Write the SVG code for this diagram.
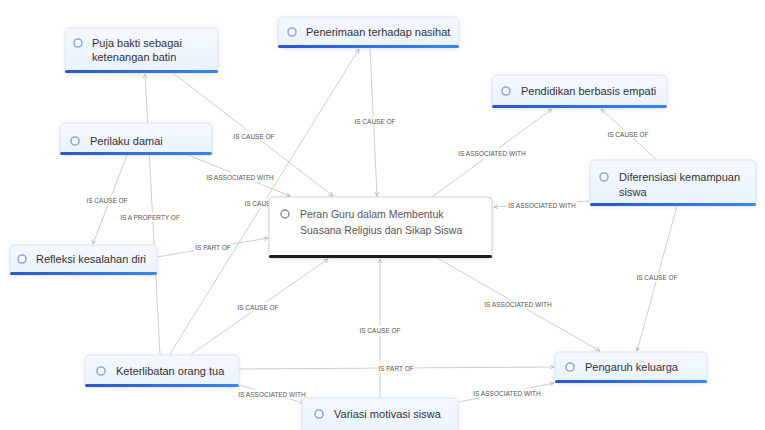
<svg xmlns="http://www.w3.org/2000/svg" width="765" height="430" viewBox="0 0 765 430">
<defs>
<linearGradient id="bar" x1="0" x2="1"><stop offset="0" stop-color="#2d56c9"/><stop offset="1" stop-color="#3a86f0"/></linearGradient>
<linearGradient id="nodeFill" x1="0" y1="0" x2="0" y2="1"><stop offset="0" stop-color="#f5f9ff"/><stop offset="1" stop-color="#eaf2fd"/></linearGradient>
<filter id="sh" x="-10%" y="-20%" width="120%" height="150%"><feDropShadow dx="0" dy="1" stdDeviation="2" flood-color="#7a8fc0" flood-opacity="0.18"/></filter>
<marker id="arr" viewBox="0 0 10 10" refX="9" refY="5" markerWidth="5" markerHeight="5" orient="auto"><path d="M1,1 L9,5 L1,9" fill="none" stroke="#b0b0b0" stroke-width="1.5"/></marker>
</defs>
<style>
.edge{stroke:#cdcdcd;stroke-width:1;fill:none;marker-end:url(#arr)}
.lbl{font-family:"Liberation Sans",Arial,sans-serif;font-size:6.5px;fill:#555;text-anchor:middle;dominant-baseline:central}
.lblbg{fill:#fff}
.box{fill:url(#nodeFill);stroke:#dbe5f6;stroke-width:1;filter:url(#sh)}
.cbox{fill:#fff;stroke:#d4d4d4;stroke-width:1;filter:url(#sh)}
.bar{fill:url(#bar)}
.cbar{fill:#1e1e1e}
.ico{fill:#fff;stroke:#8ea6ea;stroke-width:1.6}
.cico{fill:#fff;stroke:#8a8a8a;stroke-width:1.4}
.txt{font-family:"Liberation Sans",Arial,sans-serif;font-size:11px;fill:#333}
.ctxt{font-family:"Liberation Sans",Arial,sans-serif;font-size:10.5px;fill:#555}
</style>
<rect width="765" height="430" fill="#fff"/>
<g id="connectors">
<path class="edge" d="M173,73 L333,196"/>
<path class="edge" d="M370,48 L377,196"/>
<path class="edge" d="M170,354 L359,49"/>
<path class="edge" d="M432,197 L552,109"/>
<path class="edge" d="M657,160 L601,109"/>
<path class="edge" d="M589,201 L494,207"/>
<path class="edge" d="M677,206 L637,351"/>
<path class="edge" d="M437,258 L600,351"/>
<path class="edge" d="M380,398 L380,259"/>
<path class="edge" d="M239,369 L554,367"/>
<path class="edge" d="M239,385 L304,403"/>
<path class="edge" d="M459,402 L554,383"/>
<path class="edge" d="M190,355 L328,259"/>
<path class="edge" d="M157,257 L268,238"/>
<path class="edge" d="M188,155 L290,196"/>
<path class="edge" d="M127,155 L93,244"/>
<path class="edge" d="M160,354 L145,74"/>
<g>
<rect class="lblbg" x="233" y="131.5" width="42" height="9"/><text class="lbl" x="254" y="136">IS CAUSE OF</text>
<rect class="lblbg" x="354" y="116.5" width="42" height="9"/><text class="lbl" x="375" y="121">IS CAUSE OF</text>
<rect class="lblbg" x="244" y="198.5" width="42" height="9"/><text class="lbl" x="265" y="203">IS CAUSE OF</text>
<rect class="lblbg" x="457" y="148.5" width="70" height="9"/><text class="lbl" x="492" y="153">IS ASSOCIATED WITH</text>
<rect class="lblbg" x="607" y="129.5" width="42" height="9"/><text class="lbl" x="628" y="134">IS CAUSE OF</text>
<rect class="lblbg" x="507" y="200.5" width="70" height="9"/><text class="lbl" x="542" y="205">IS ASSOCIATED WITH</text>
<rect class="lblbg" x="636" y="272.5" width="42" height="9"/><text class="lbl" x="657" y="277">IS CAUSE OF</text>
<rect class="lblbg" x="483" y="299.5" width="70" height="9"/><text class="lbl" x="518" y="304">IS ASSOCIATED WITH</text>
<rect class="lblbg" x="359" y="325.5" width="42" height="9"/><text class="lbl" x="380" y="330">IS CAUSE OF</text>
<rect class="lblbg" x="377" y="363.5" width="38" height="9"/><text class="lbl" x="396" y="368">IS PART OF</text>
<rect class="lblbg" x="237" y="389.5" width="70" height="9"/><text class="lbl" x="272" y="394">IS ASSOCIATED WITH</text>
<rect class="lblbg" x="472" y="388.5" width="70" height="9"/><text class="lbl" x="507" y="393">IS ASSOCIATED WITH</text>
<rect class="lblbg" x="237" y="302.5" width="42" height="9"/><text class="lbl" x="258" y="307">IS CAUSE OF</text>
<rect class="lblbg" x="194" y="242.5" width="38" height="9"/><text class="lbl" x="213" y="247">IS PART OF</text>
<rect class="lblbg" x="205" y="172.5" width="70" height="9"/><text class="lbl" x="240" y="177">IS ASSOCIATED WITH</text>
<rect class="lblbg" x="86" y="195.5" width="42" height="9"/><text class="lbl" x="107" y="200">IS CAUSE OF</text>
<rect class="lblbg" x="119" y="212.5" width="62" height="9"/><text class="lbl" x="150" y="217">IS A PROPERTY OF</text>
</g>
</g>
<g id="node-puja">
<rect class="box" x="65" y="28" width="153" height="45" rx="5"/>
<rect class="bar" x="65" y="70" width="153" height="3" rx="1.5"/>
<circle class="ico" cx="78" cy="43" r="4"/>
<text class="txt" x="92" y="47">Puja bakti sebagai</text>
<text class="txt" x="92" y="61">ketenangan batin</text>
</g>
<g id="node-penerimaan">
<rect class="box" x="278" y="17" width="181" height="31" rx="5"/>
<rect class="bar" x="278" y="45" width="181" height="3" rx="1.5"/>
<circle class="ico" cx="292" cy="32" r="4"/>
<text class="txt" x="306" y="36">Penerimaan terhadap nasihat</text>
</g>
<g id="node-pendidikan">
<rect class="box" x="492" y="75" width="175" height="33" rx="5"/>
<rect class="bar" x="492" y="105" width="175" height="3" rx="1.5"/>
<circle class="ico" cx="506" cy="91" r="4"/>
<text class="txt" x="521" y="95">Pendidikan berbasis empati</text>
</g>
<g id="node-diferensiasi">
<rect class="box" x="590" y="160" width="166" height="46" rx="5"/>
<rect class="bar" x="590" y="203" width="166" height="3" rx="1.5"/>
<circle class="ico" cx="604" cy="177" r="4"/>
<text class="txt" x="619" y="181">Diferensiasi kemampuan</text>
<text class="txt" x="619" y="196">siswa</text>
</g>
<g id="node-perilaku">
<rect class="box" x="60" y="123" width="152" height="32" rx="5"/>
<rect class="bar" x="60" y="152" width="152" height="3" rx="1.5"/>
<circle class="ico" cx="75" cy="141" r="4"/>
<text class="txt" x="90" y="145">Perilaku damai</text>
</g>
<g id="node-refleksi">
<rect class="box" x="10" y="245" width="147" height="30" rx="5"/>
<rect class="bar" x="10" y="272" width="147" height="3" rx="1.5"/>
<circle class="ico" cx="22" cy="259" r="4"/>
<text class="txt" x="36" y="263">Refleksi kesalahan diri</text>
</g>
<g id="node-central">
<rect class="cbox" x="269" y="197" width="223" height="61" rx="4"/>
<rect class="cbar" x="269" y="255" width="223" height="3" rx="1.5"/>
<circle class="cico" cx="285" cy="214" r="4"/>
<text class="ctxt" x="300" y="218">Peran Guru dalam Membentuk</text>
<text class="ctxt" x="300" y="234">Suasana Religius dan Sikap Siswa</text>
</g>
<g id="node-keterlibatan">
<rect class="box" x="85" y="355" width="154" height="32" rx="5"/>
<rect class="bar" x="85" y="384" width="154" height="3" rx="1.5"/>
<circle class="ico" cx="101" cy="371" r="4"/>
<text class="txt" x="116" y="375">Keterlibatan orang tua</text>
</g>
<g id="node-variasi">
<rect class="box" x="302" y="398" width="156" height="36" rx="5"/>
<circle class="ico" cx="319" cy="414" r="4"/>
<text class="txt" x="334" y="418">Variasi motivasi siswa</text>
</g>
<g id="node-pengaruh">
<rect class="box" x="555" y="352" width="152" height="31" rx="5"/>
<rect class="bar" x="555" y="380" width="152" height="3" rx="1.5"/>
<circle class="ico" cx="570" cy="367" r="4"/>
<text class="txt" x="585" y="371">Pengaruh keluarga</text>
</g>
</svg>
